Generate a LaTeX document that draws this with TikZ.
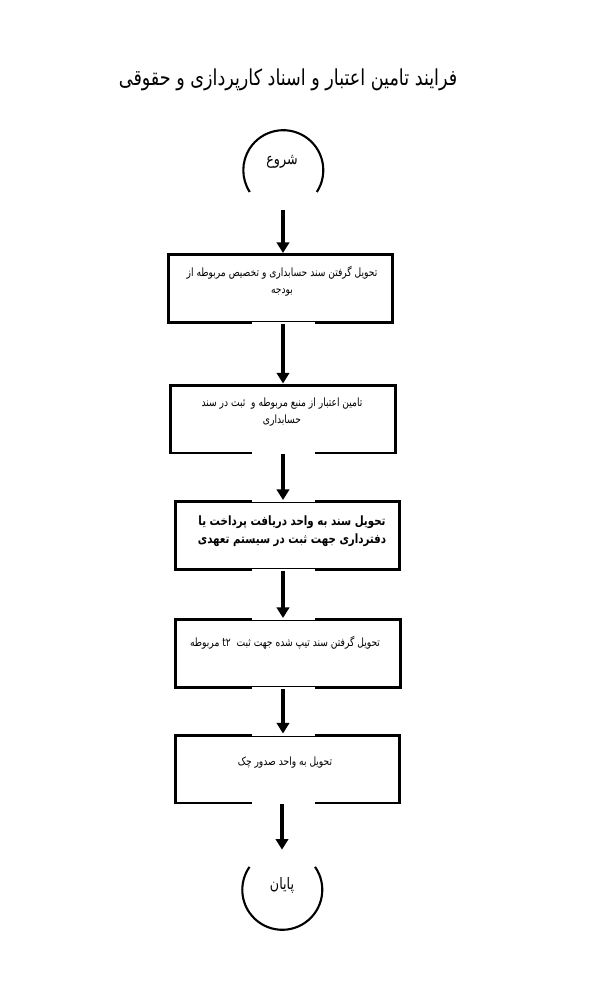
\documentclass[tikz,border=0pt]{standalone}
\usepackage{fontspec}
\usetikzlibrary{arrows.meta,positioning}
\TeXXeTstate=1
\newfontfamily\fa[Script=Arabic,FakeStretch=0.8]{DejaVu Sans}
\newcommand\rl[1]{\beginR#1\endR}
\tikzset{box/.style={draw,line width=1.7pt,minimum width=4.5cm,minimum height=1.36cm,inner sep=0pt},
txt/.style={font=\fa\fontsize{6.5}{9.5}\selectfont,align=center,inner sep=0pt},
term/.style={circle,minimum size=1.6cm,inner sep=0pt},
ring/.style={line width=1.2pt},
gap/.style={white,line width=2.4pt},
arr/.style={line width=1.8pt,-{Triangle[width=7pt,length=6pt]}}}
\begin{document}
\begin{tikzpicture}[x=0.02cm,y=0.02cm]
\useasboundingbox(0,0)rectangle(600,-1000);
\node[txt,font=\fa\fontsize{12.5}{15}\selectfont](title)at(288,-80){\rl{فرایند تامین اعتبار و اسناد کارپردازی و حقوقی}};
% start / end
\node[term](start)at(283,-170){};\node[txt,font=\fa\fontsize{9}{11}\selectfont](tstart)at(282,-162){\rl{شروع}};
\draw[ring](start.-33)arc[start angle=-33,end angle=213,radius=0.8cm];
\node[term](end)at(282,-890){};\node[txt,font=\fa\fontsize{9}{11}\selectfont](tend)at(282,-885){\rl{پایان}};
\draw[ring](end.35)arc[start angle=35,end angle=-215,radius=0.8cm];
% steps
\node[box](b1)at(280.5,-288.5){};\node[txt](t1)at(282,-281){\rl{تحویل گرفتن سند حسابداری و تخصیص مربوطه از}\\\rl{بودجه}};
\node[box](b2)at(283,-419){};\node[txt](t2)at(282,-412){\rl{تامین اعتبار از منبع مربوطه و \ ثبت در سند}\\\rl{حسابداری}};
\node[box](b3)at(287.5,-535.5){};\node[txt,font=\fa\bfseries\fontsize{7.3}{10}\selectfont](t3)at(292,-531){\rl{تحویل سند به واحد دریافت پرداخت یا}\\\rl{دفترداری جهت ثبت در سیستم تعهدی}};
\node[box](b4)at(288,-653.5){};\node[txt](t4)at(285,-643){\rl{تحویل گرفتن سند تیپ شده جهت ثبت \ \beginL t۲\endL{} مربوطه}};
\node[box](b5)at(287.5,-769){};\node[txt](t5)at(285,-763){\rl{تحویل به واحد صدور چک}};
\foreach\p in{b1.south,b2.south,b3.north,b3.south,b4.north,b4.south,b5.north,b5.south}\draw[gap](252,0|-\p)--(315,0|-\p);
% arrows
\draw[arr](start.south)--(start.south|-b1.north);
\foreach\a/\b in{b1/b2,b2/b3,b3/b4,b4/b5}\draw[arr](\a.south-|start)--(\b.north-|start);
\draw[arr](b5.south-|end)--(end.north);
\end{tikzpicture}
\end{document}
